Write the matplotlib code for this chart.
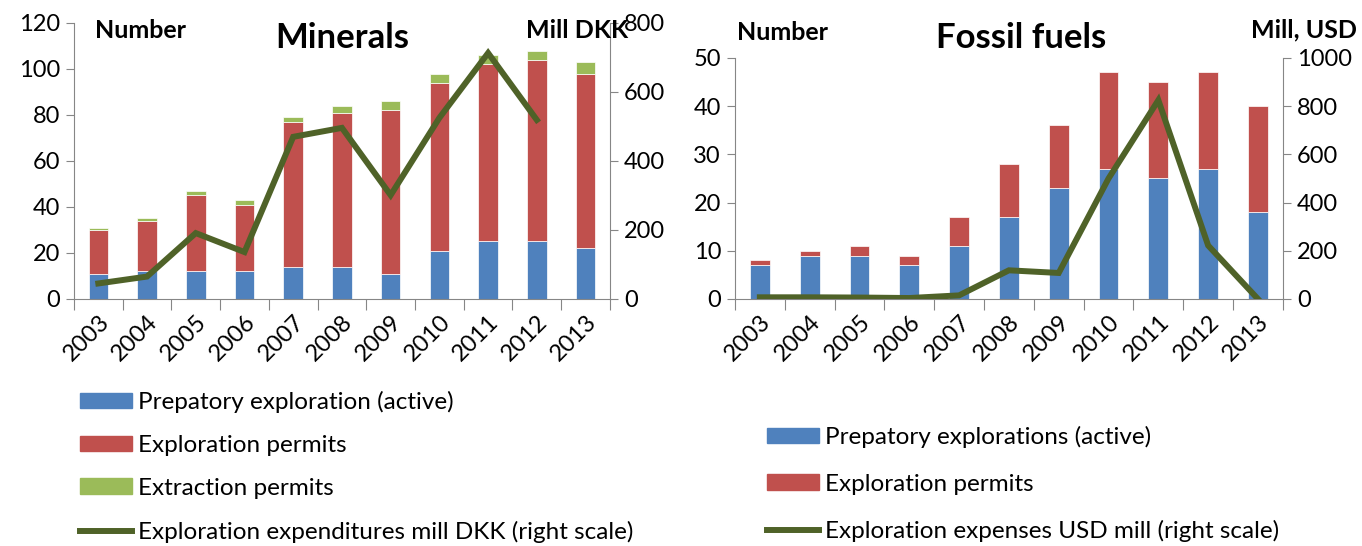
import numpy as np
import matplotlib
matplotlib.use('Agg')
import matplotlib.pyplot as plt
from matplotlib.lines import Line2D
from matplotlib.patches import Patch

plt.rcParams['font.family'] = ['Lato', 'DejaVu Sans']

years = ['2003', '2004', '2005', '2006', '2007', '2008', '2009', '2010', '2011', '2012', '2013']

# Minerals (left chart)
min_prep = [11, 12, 12, 12, 14, 14, 11, 21, 25, 25, 22]
min_expl = [19, 22, 33, 29, 63, 67, 71, 73, 77, 79, 76]
min_extr = [1, 1, 2, 2, 2, 3, 4, 4, 4, 4, 5]
min_spend = [45, 65, 191, 136, 470, 496, 301, 525, 713, 519, np.nan]

# Fossil fuels (right chart)
fos_prep = [7, 9, 9, 7, 11, 17, 23, 27, 25, 27, 18]
fos_expl = [1, 1, 2, 2, 6, 11, 13, 20, 20, 20, 22]
fos_spend = [7, 7, 6, 4, 15, 119, 108, 500, 825, 222, 0]

BLUE = '#4F81BD'
RED = '#C0504D'
GREEN = '#9BBB59'
LINE = '#4F6228'
GRAY = '#868686'
LW = 4.3

fig = plt.figure(figsize=(13.62, 5.46), dpi=100)


def style_axes(ax, ax2, n):
    ax.spines['top'].set_visible(False)
    ax2.spines['top'].set_visible(False)
    for sp in ['left', 'bottom', 'right']:
        ax.spines[sp].set_color(GRAY)
        ax2.spines[sp].set_color(GRAY)
    ax.spines['right'].set_visible(False)
    ax2.spines['left'].set_visible(False)
    ax2.spines['bottom'].set_visible(False)
    ax.set_xlim(-0.5, n - 0.5)
    ax.set_xticks(np.arange(-0.5, n, 1.0))
    ax.set_xticklabels([])
    ax.set_xticks(np.arange(n), minor=True)
    ax.set_xticklabels(years, minor=True, rotation=45, ha='right', va='top',
                       rotation_mode='anchor', fontsize=17)
    ax.tick_params(axis='x', which='major', length=8, color=GRAY, direction='out')
    ax.tick_params(axis='x', which='minor', length=0, pad=9)
    ax.tick_params(axis='y', length=6, color=GRAY, labelsize=17, pad=4)
    ax2.tick_params(axis='y', length=6, color=GRAY, labelsize=17, pad=4)


x = np.arange(len(years))
w = 0.4

# ---- Minerals ----
ax = fig.add_axes([0.0543, 0.4524, 0.3935, 0.5055])
ax2 = ax.twinx()
ax.bar(x, min_prep, w, color=BLUE, edgecolor='white', linewidth=0.5)
ax.bar(x, min_expl, w, bottom=min_prep, color=RED, edgecolor='white', linewidth=0.5)
ax.bar(x, min_extr, w, bottom=np.array(min_prep) + np.array(min_expl), color=GREEN,
       edgecolor='white', linewidth=0.5)
ax2.plot(x, min_spend, color=LINE, lw=LW, solid_joinstyle='miter')
ax.set_ylim(0, 120)
ax.set_yticks(range(0, 121, 20))
ax2.set_ylim(0, 800)
ax2.set_yticks(range(0, 801, 200))
style_axes(ax, ax2, len(years))

fig.text(95 / 1362, 1 - 31 / 546, 'Number', fontsize=18, fontweight='bold', va='center', ha='left')
fig.text(628 / 1362, 1 - 30 / 546, 'Mill DKK', fontsize=18, fontweight='bold', va='center', ha='right')
fig.text(342 / 1362, 1 - 38 / 546, 'Minerals', fontsize=25, fontweight='bold', va='center', ha='center')

h1 = [Patch(color=BLUE), Patch(color=RED), Patch(color=GREEN), Line2D([], [], color=LINE, lw=LW)]
l1 = ['Prepatory exploration (active)', 'Exploration permits', 'Extraction permits',
      'Exploration expenditures mill DKK (right scale)']
fig.legend(h1, l1, loc='upper left', bbox_to_anchor=(80 / 1362, 1 - 391 / 546), frameon=False,
           fontsize=17.5, handlelength=2.15, handleheight=0.62, handletextpad=0.25,
           labelspacing=0.9, borderpad=0, borderaxespad=0)

# ---- Fossil fuels ----
bx = fig.add_axes([0.5396, 0.4524, 0.4023, 0.4414])
bx2 = bx.twinx()
bx.bar(x, fos_prep, w, color=BLUE, edgecolor='white', linewidth=0.5)
bx.bar(x, fos_expl, w, bottom=fos_prep, color=RED, edgecolor='white', linewidth=0.5)
bx2.plot(x, fos_spend, color=LINE, lw=LW, solid_joinstyle='miter')
bx.set_ylim(0, 50)
bx.set_yticks(range(0, 51, 10))
bx2.set_ylim(0, 1000)
bx2.set_yticks(range(0, 1001, 200))
style_axes(bx, bx2, len(years))

fig.text(737 / 1362, 1 - 32 / 546, 'Number', fontsize=18, fontweight='bold', va='center', ha='left')
fig.text(1357 / 1362, 1 - 30 / 546, 'Mill, USD', fontsize=18, fontweight='bold', va='center', ha='right')
fig.text(1021 / 1362, 1 - 38 / 546, 'Fossil fuels', fontsize=25, fontweight='bold', va='center', ha='center')

h2 = [Patch(color=BLUE), Patch(color=RED), Line2D([], [], color=LINE, lw=LW)]
l2 = ['Prepatory explorations (active)', 'Exploration permits',
      'Exploration expenses USD mill (right scale)']
fig.legend(h2, l2, loc='upper left', bbox_to_anchor=(767 / 1362, 1 - 426 / 546), frameon=False,
           fontsize=17.5, handlelength=2.15, handleheight=0.62, handletextpad=0.25,
           labelspacing=1.05, borderpad=0, borderaxespad=0)

fig.savefig('out.png', dpi=100)
